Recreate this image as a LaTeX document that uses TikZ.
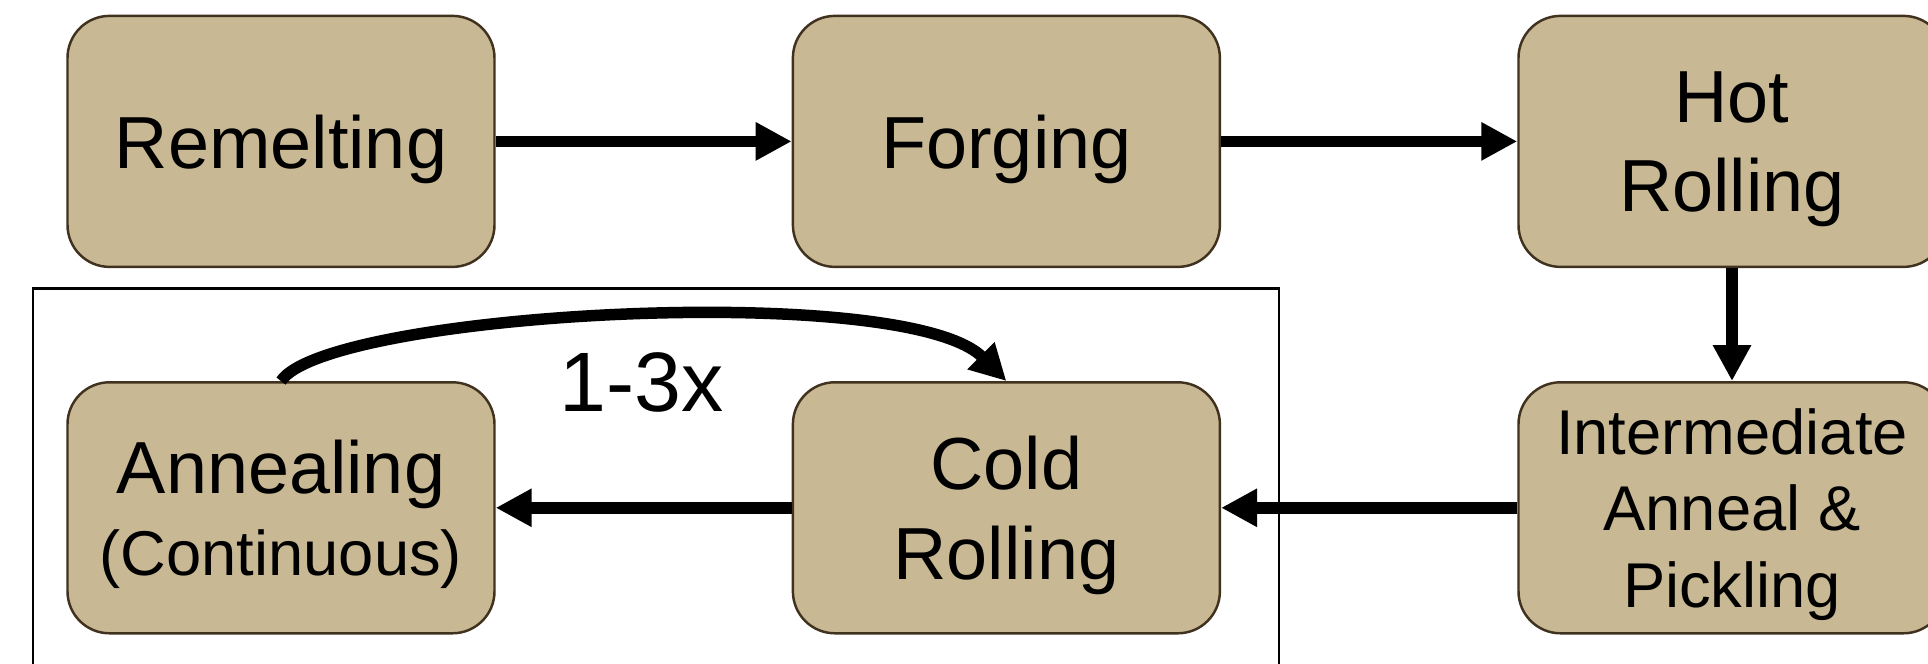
\documentclass[tikz,border=0pt]{standalone}
\usepackage{fontspec}
\setmainfont{Liberation Sans}
\usetikzlibrary{arrows.meta}
\definecolor{tan}{RGB}{200,185,148}
\definecolor{tanedge}{RGB}{64,50,30}
\tikzset{
  stepbox/.style={draw=tanedge, fill=tan, line width=0.7pt, rounded corners=4.2mm,
    minimum width=42.7mm, minimum height=25.1mm, inner sep=0pt, align=center,
    text depth=0pt, font=\fontsize{21}{25.4}\selectfont},
  smalltext/.style={font=\fontsize{18}{21.8}\selectfont},
  flow/.style={line width=1.15mm, -{Triangle[length=3.6mm,width=3.6mm]}},
  frame/.style={draw=black, line width=0.85pt}
}
\begin{document}
\begin{tikzpicture}[x=0.1mm, y=-0.1mm]
  \clip (0,0) rectangle (1928,664);
  \fill[white] (0,0) rectangle (1928,664);

  % cold-work loop enclosure
  \draw[frame] (33,289) rectangle (1279,720);

  % upper row
  \node[stepbox] (rem)   at (281,141.4)   {Remelting};
  \node[stepbox] (forg)  at (1006.4,141.4) {Forging};
  \node[stepbox] (hot)   at (1732,141.4)  {Hot\\Rolling};

  % lower row
  \node[stepbox] (ann)   at (281,507.8)   {Annealing\\[-2pt]{\fontsize{18}{21.8}\selectfont (Continuous)}};
  \node[stepbox] (cold)  at (1006.4,507.8) {Cold\\Rolling};
  \node[stepbox, smalltext] (inter) at (1732,507.8) {Intermediate\\Anneal \&\\Pickling};

  % process flow
  \draw[flow] (rem) -- (forg);
  \draw[flow] (forg) -- (hot);
  \draw[flow] (hot) -- (inter);
  \draw[flow] (inter) -- (cold);
  \draw[flow] (cold) -- (ann);

  % repeat loop
  \draw[flow] (ann.north) .. controls (327,312) and (905,280) .. (cold.north);
  \node[font=\fontsize{24}{28}\selectfont] (times) at (642,382) {1-3x};
\end{tikzpicture}
\end{document}
